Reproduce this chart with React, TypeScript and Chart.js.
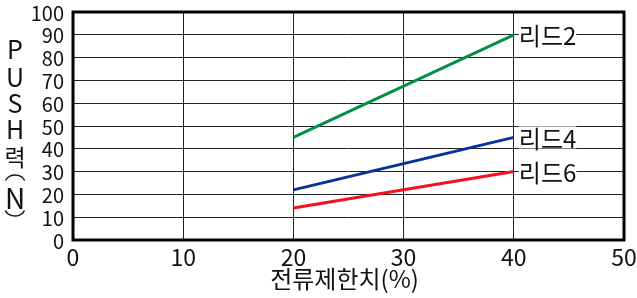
import React, { useEffect, useRef } from "react";
import { Chart, registerables } from "chart.js";
Chart.register(...registerables);

const xTicks = [0, 10, 20, 30, 40, 50];
const yTicks = [0, 10, 20, 30, 40, 50, 60, 70, 80, 90, 100];
const seriesNames = ["리드2", "리드4", "리드6"];
const xValues = [20, 40];
const lead2 = [45, 90];
const lead4 = [22, 45];
const lead6 = [14, 30];
const colors = ["#009046", "#0a319b", "#f5101e"];
const yTitleChars = ["P", "U", "S", "H", "력", "N"];
const xTitle = "전류제한치(%)";

const FONT = "'Noto Sans CJK KR', 'Noto Sans', sans-serif";

export default function App() {
  const ref = useRef<HTMLCanvasElement>(null);
  useEffect(() => {
    const seriesVals = [lead2, lead4, lead6];
    const overlay = {
      id: "overlay",
      afterDatasetsDraw(chart: any) {
        const ctx = chart.ctx;
        const a = chart.chartArea;
        const xs = chart.scales.x;
        const ysc = chart.scales.y;
        ctx.save();
        // border
        ctx.strokeStyle = "#000";
        ctx.lineWidth = 3;
        ctx.strokeRect(a.left, a.top, a.right - a.left, a.bottom - a.top);
        ctx.fillStyle = "#111";
        // y tick labels
        ctx.font = `20px ${FONT}`;
        ctx.textAlign = "right";
        ctx.textBaseline = "middle";
        yTicks.forEach((v) => {
          ctx.fillText(String(v), a.left - 9, ysc.getPixelForValue(v) + 1);
        });
        // x tick labels
        ctx.font = `23px ${FONT}`;
        ctx.textAlign = "center";
        xTicks.forEach((v) => {
          ctx.fillText(String(v), xs.getPixelForValue(v), a.bottom + 17);
        });
        // series labels
        ctx.font = `24px ${FONT}`;
        ctx.textAlign = "left";
        chart.data.datasets.forEach((ds: any, i: number) => {
          const meta = chart.getDatasetMeta(i);
          const p = meta.data[meta.data.length - 1];
          const tx = p.x + 5;
          const w = ctx.measureText(seriesNames[i]).width;
          ctx.fillStyle = "#fff";
          ctx.fillRect(tx, p.y - 11, w, 22);
          ctx.fillStyle = "#111";
          ctx.fillText(seriesNames[i], tx, p.y + 1);
        });
        // y title
        ctx.textAlign = "center";
        const ys = [49, 77, 103, 129, 157, 198];
        const sizes = [25, 25, 25, 25, 23, 28];
        yTitleChars.forEach((c, i) => {
          ctx.font = `${sizes[i]}px ${FONT}`;
          ctx.fillStyle = "#111";
          ctx.fillText(c, 15, ys[i]);
        });
        // vertical parentheses
        ctx.strokeStyle = "#111";
        ctx.lineWidth = 1.5;
        ctx.beginPath();
        ctx.ellipse(15, 183, 10, 8, 0, Math.PI * 1.1, Math.PI * 1.9);
        ctx.stroke();
        ctx.beginPath();
        ctx.ellipse(15, 208, 10, 8, 0, Math.PI * 0.1, Math.PI * 0.9);
        ctx.stroke();
        // x title
        ctx.font = `24px ${FONT}`;
        ctx.fillStyle = "#111";
        ctx.fillText(xTitle, (a.left + a.right) / 2 - 4, 279);
        ctx.restore();
      },
    };
    const chart = new Chart(ref.current!, {
      type: "line",
      data: {
        datasets: seriesVals.map((vals, i) => ({
          label: seriesNames[i],
          data: xValues.map((x, j) => ({ x, y: vals[j] })),
          borderColor: colors[i],
          backgroundColor: colors[i],
          borderWidth: 3,
          pointRadius: 0,
          fill: false,
        })),
      },
      options: {
        animation: false,
        responsive: false,
        layout: { padding: { top: 12, right: 13, left: 0, bottom: 0 } },
        plugins: { legend: { display: false }, tooltip: { enabled: false } },
        scales: {
          x: {
            type: "linear",
            min: 0,
            max: 50,
            afterBuildTicks: (s: any) => {
              s.ticks = xTicks.map((v) => ({ value: v }));
            },
            afterFit: (s: any) => {
              s.height = 58;
            },
            grid: { color: "#222", lineWidth: 1, drawTicks: false },
            border: { display: false },
            ticks: { display: false },
          },
          y: {
            type: "linear",
            min: 0,
            max: 100,
            afterBuildTicks: (s: any) => {
              s.ticks = yTicks.map((v) => ({ value: v }));
            },
            afterFit: (s: any) => {
              s.width = 73;
            },
            grid: { color: "#222", lineWidth: 1, drawTicks: false },
            border: { display: false },
            ticks: { display: false },
          },
        },
      },
      plugins: [overlay],
    });
    return () => chart.destroy();
  }, []);
  return (
    <div style={{ position: "fixed", left: 0, top: 0, width: 637, height: 298, background: "#fff" }}>
      <canvas ref={ref} width={637} height={298} />
    </div>
  );
}
